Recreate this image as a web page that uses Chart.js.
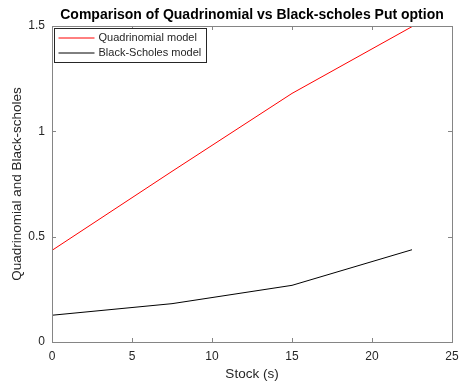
<!DOCTYPE html>
<html>
<head>
<meta charset="utf-8">
<script src="https://cdn.jsdelivr.net/npm/chart.js@4/dist/chart.umd.min.js"></script>
<style>
  body{ margin:0; background:#fff; }
  canvas{ display:block; }
</style>
</head>
<body>
<canvas id="chart" width="461" height="383"></canvas>
<script>
// data
const stockPrices = [0, 7.5, 15, 22.5];
const quadrinomial = [0.435, 0.81, 1.18, 1.497];
const blackScholes = [0.127, 0.182, 0.269, 0.438];
const seriesNames = ['Quadrinomial model', 'Black-Scholes model'];
const xTicks = [0, 5, 10, 15, 20, 25];
const yTicks = [0, 0.5, 1, 1.5];
const titleText = 'Comparison of Quadrinomial vs Black-scholes Put option';
const yTitle = 'Quadrinomial and Black-scholes';

const axisColor = '#262626';
const boxColor = '#858585';
const FONT = '"Liberation Sans", Arial, Helvetica, sans-serif';

// MATLAB-like box, inward ticks, legend, titles
const matlabAxes = {
  id: 'matlabAxes',
  afterDraw(chart){
    const ctx = chart.ctx;
    const a = chart.chartArea;
    const xs = chart.scales.x, ys = chart.scales.y;
    ctx.save();
    ctx.strokeStyle = boxColor;
    ctx.lineWidth = 1;
    ctx.strokeRect(Math.round(a.left)+0.5, Math.round(a.top)+0.5, Math.round(a.right-a.left), Math.round(a.bottom-a.top));
    const tl = 4;
    ctx.beginPath();
    xTicks.forEach(v=>{
      const px = Math.round(xs.getPixelForValue(v))+0.5;
      ctx.moveTo(px, a.bottom); ctx.lineTo(px, a.bottom - tl);
      ctx.moveTo(px, a.top); ctx.lineTo(px, a.top + tl);
    });
    yTicks.forEach(v=>{
      const py = Math.round(ys.getPixelForValue(v))+0.5;
      ctx.moveTo(a.left, py); ctx.lineTo(a.left + tl, py);
      ctx.moveTo(a.right, py); ctx.lineTo(a.right - tl, py);
    });
    ctx.stroke();

    // legend
    const lx = a.left + 2.5, ly = a.top + 2.5, lw = 152, lh = 34;
    ctx.fillStyle = '#fff';
    ctx.fillRect(lx, ly, lw, lh);
    ctx.strokeStyle = axisColor;
    ctx.strokeRect(lx, ly, lw, lh);
    ctx.font = '11px ' + FONT;
    ctx.textBaseline = 'middle';
    ctx.textAlign = 'left';
    chart.data.datasets.forEach((ds, i)=>{
      const cy = ly + 9.5 + i*15;
      ctx.strokeStyle = ds.borderColor;
      ctx.beginPath();
      ctx.moveTo(lx + 4, cy); ctx.lineTo(lx + 40, cy);
      ctx.stroke();
      ctx.fillStyle = axisColor;
      ctx.fillText(ds.label, lx + 44, cy);
    });

    // title centred over axes
    ctx.fillStyle = '#000';
    ctx.font = 'bold 14px ' + FONT;
    ctx.textAlign = 'center';
    ctx.fillText(titleText, (a.left + a.right)/2, 15);

    // y axis label
    ctx.fillStyle = axisColor;
    ctx.font = '13.5px ' + FONT;
    ctx.translate(17.5, (a.top + a.bottom)/2);
    ctx.rotate(-Math.PI/2);
    ctx.fillText(yTitle, 0, 0);
    ctx.restore();
  }
};

new Chart(document.getElementById('chart'), {
  type: 'line',
  data: {
    datasets: [
      { label: seriesNames[0], data: stockPrices.map((x,i)=>({x, y: quadrinomial[i]})), borderColor: '#ff0000', borderWidth: 1, pointRadius: 0, fill: false, tension: 0 },
      { label: seriesNames[1], data: stockPrices.map((x,i)=>({x, y: blackScholes[i]})), borderColor: '#000000', borderWidth: 1, pointRadius: 0, fill: false, tension: 0 }
    ]
  },
  options: {
    responsive: false,
    animation: false,
    devicePixelRatio: 1,
    layout: { padding: { top: 26, right: 9, left: 0, bottom: 0 } },
    plugins: { legend: { display: false }, title: { display: false }, tooltip: { enabled: false } },
    scales: {
      x: {
        type: 'linear', min: 0, max: 25,
        afterFit: s => { s.height = 41; s.paddingRight = 0; s.paddingLeft = 0; },
        afterBuildTicks: s => { s.ticks = xTicks.map(v=>({value: v})); },
        grid: { display: false, drawTicks: false },
        border: { display: false },
        ticks: { color: axisColor, font: { family: FONT, size: 12 }, padding: 7, maxRotation: 0, callback: v => String(v) },
        title: { display: true, text: 'Stock (s)', color: axisColor, font: { family: FONT, size: 13.5 }, padding: { top: 0, bottom: 1 } }
      },
      y: {
        type: 'linear', min: 0, max: 1.5,
        afterFit: s => { s.width = 52; s.paddingTop = 0; s.paddingBottom = 0; },
        afterBuildTicks: s => { s.ticks = yTicks.map(v=>({value: v})); },
        grid: { display: false, drawTicks: false },
        border: { display: false },
        ticks: { color: axisColor, font: { family: FONT, size: 12 }, padding: 7, callback: v => String(v) }
      }
    }
  },
  plugins: [matlabAxes]
});
</script>
</body>
</html>
